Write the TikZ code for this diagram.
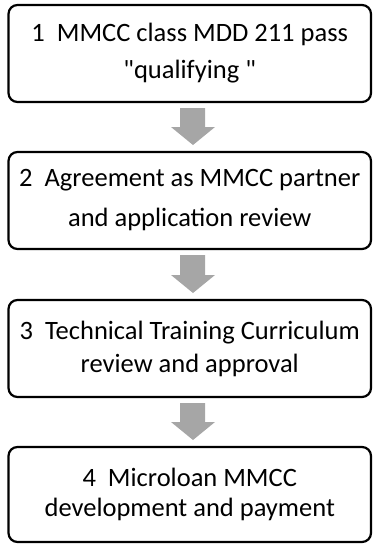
\documentclass[tikz,border=0pt]{standalone}
\usepackage{fontspec}
\setmainfont{Carlito}[Ligatures=TeXOff]
\usetikzlibrary{calc}
\definecolor{arrowgrey}{HTML}{A6A6A6}
\tikzset{
  stepbox/.style={draw=black, line width=2.2pt, rounded corners=9pt,
    minimum width=362.5pt, minimum height=97pt, outer sep=0pt,
    align=center, inner sep=0pt, text=black},
  bigarrow/.style={fill=arrowgrey, draw=none}
}
\newcommand{\flowarrow}[2]{%
  \fill[bigarrow] ($(#1.south)+(-9.75,6)$) -- ($(#1.south)+(15.25,6)$)
    -- ($(#2.north)+(15.25,-25)$) -- ($(#2.north)+(25.25,-25)$)
    -- ($(#2.north)+(3.25,-7)$) -- ($(#2.north)+(-18.75,-25)$)
    -- ($(#2.north)+(-9.75,-25)$) -- cycle;}
\begin{document}
\begin{tikzpicture}[x=1pt,y=-1pt]
\useasboundingbox (0,0) rectangle (373,544);
\node[stepbox, font=\fontsize{26.5}{37}\selectfont] (b1) at (189.75,53.5)
  {1~~MMCC class MDD 211 pass\\"qualifying~"};
\node[stepbox, font=\fontsize{26.5}{40}\selectfont] (b2) at (189.75,200.5)
  {2~~Agreement as MMCC partner\\and application review};
\node[stepbox, font=\fontsize{26.5}{33}\selectfont] (b3) at (189.75,348.5)
  {3~~Technical Training Curriculum\\review and approval};
\node[stepbox, font=\fontsize{26.5}{30}\selectfont, minimum height=95pt] (b4) at (189.75,494.5)
  {4~~Microloan MMCC\\development and payment};
\flowarrow{b1}{b2}
\flowarrow{b2}{b3}
\flowarrow{b3}{b4}
\end{tikzpicture}
\end{document}
